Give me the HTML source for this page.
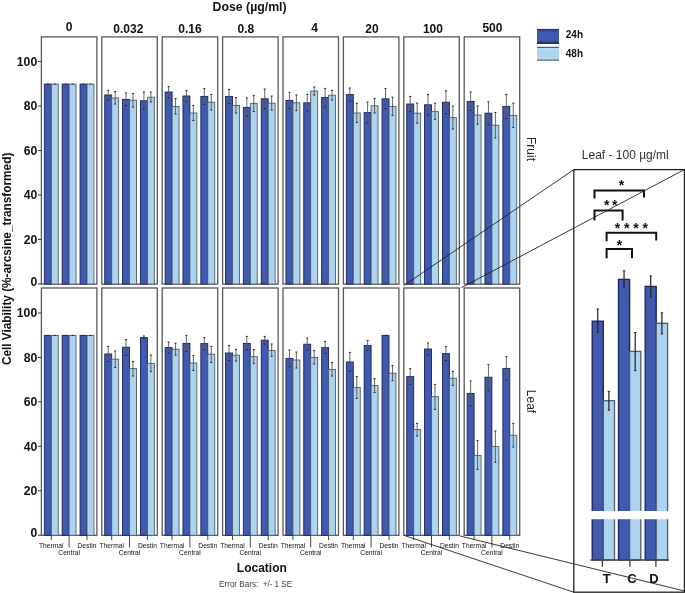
<!DOCTYPE html>
<html><head><meta charset="utf-8"><title>Chart</title>
<style>html,body{margin:0;padding:0;background:#fff;}svg{display:block;filter:blur(0.35px);}text{font-family:"Liberation Sans",sans-serif;}</style>
</head><body>
<svg width="685" height="593" viewBox="0 0 685 593">
<rect width="685" height="593" fill="#fff"/>
<rect x="41.40" y="36.9" width="55.5" height="247.20" fill="#fff" stroke="#585858" stroke-width="1.3"/>
<rect x="44.35" y="84.10" width="6.95" height="200.00" fill="#3f5aae" stroke="#18225a" stroke-width="0.9"/>
<rect x="51.30" y="84.10" width="6.95" height="200.00" fill="#add3ef" stroke="#4f5d6c" stroke-width="0.9"/>
<rect x="62.15" y="84.10" width="6.95" height="200.00" fill="#3f5aae" stroke="#18225a" stroke-width="0.9"/>
<rect x="69.10" y="84.10" width="6.95" height="200.00" fill="#add3ef" stroke="#4f5d6c" stroke-width="0.9"/>
<rect x="80.05" y="84.10" width="6.95" height="200.00" fill="#3f5aae" stroke="#18225a" stroke-width="0.9"/>
<rect x="87.00" y="84.10" width="6.95" height="200.00" fill="#add3ef" stroke="#4f5d6c" stroke-width="0.9"/>
<path d="M46.83 84.10h2" stroke="#222" stroke-width="1"/>
<path d="M53.78 84.10h2" stroke="#222" stroke-width="1"/>
<path d="M64.62 84.10h2" stroke="#222" stroke-width="1"/>
<path d="M71.57 84.10h2" stroke="#222" stroke-width="1"/>
<path d="M82.52 84.10h2" stroke="#222" stroke-width="1"/>
<path d="M89.47 84.10h2" stroke="#222" stroke-width="1"/>
<rect x="101.80" y="36.9" width="55.5" height="247.20" fill="#fff" stroke="#585858" stroke-width="1.3"/>
<rect x="104.75" y="95.00" width="6.95" height="189.10" fill="#3f5aae" stroke="#18225a" stroke-width="0.9"/>
<rect x="111.70" y="98.00" width="6.95" height="186.10" fill="#add3ef" stroke="#4f5d6c" stroke-width="0.9"/>
<rect x="122.55" y="99.40" width="6.95" height="184.70" fill="#3f5aae" stroke="#18225a" stroke-width="0.9"/>
<rect x="129.50" y="100.20" width="6.95" height="183.90" fill="#add3ef" stroke="#4f5d6c" stroke-width="0.9"/>
<rect x="140.45" y="100.80" width="6.95" height="183.30" fill="#3f5aae" stroke="#18225a" stroke-width="0.9"/>
<rect x="147.40" y="97.20" width="6.95" height="186.90" fill="#add3ef" stroke="#4f5d6c" stroke-width="0.9"/>
<path d="M108.22 90.40V100.00" stroke="#555" stroke-width="0.9" fill="none"/>
<path d="M107.22 90.40h2.00M107.22 100.00h2.00" stroke="#222" stroke-width="1" fill="none"/>
<path d="M115.17 91.60V104.00" stroke="#555" stroke-width="0.9" fill="none"/>
<path d="M114.17 91.60h2.00M114.17 104.00h2.00" stroke="#222" stroke-width="1" fill="none"/>
<path d="M126.02 93.00V105.60" stroke="#555" stroke-width="0.9" fill="none"/>
<path d="M125.02 93.00h2.00M125.02 105.60h2.00" stroke="#222" stroke-width="1" fill="none"/>
<path d="M132.97 93.60V107.00" stroke="#555" stroke-width="0.9" fill="none"/>
<path d="M131.97 93.60h2.00M131.97 107.00h2.00" stroke="#222" stroke-width="1" fill="none"/>
<path d="M143.92 92.00V109.00" stroke="#555" stroke-width="0.9" fill="none"/>
<path d="M142.92 92.00h2.00M142.92 109.00h2.00" stroke="#222" stroke-width="1" fill="none"/>
<path d="M150.87 92.00V102.00" stroke="#555" stroke-width="0.9" fill="none"/>
<path d="M149.87 92.00h2.00M149.87 102.00h2.00" stroke="#222" stroke-width="1" fill="none"/>
<rect x="162.20" y="36.9" width="55.5" height="247.20" fill="#fff" stroke="#585858" stroke-width="1.3"/>
<rect x="165.15" y="92.00" width="6.95" height="192.10" fill="#3f5aae" stroke="#18225a" stroke-width="0.9"/>
<rect x="172.10" y="106.40" width="6.95" height="177.70" fill="#add3ef" stroke="#4f5d6c" stroke-width="0.9"/>
<rect x="182.95" y="96.00" width="6.95" height="188.10" fill="#3f5aae" stroke="#18225a" stroke-width="0.9"/>
<rect x="189.90" y="113.00" width="6.95" height="171.10" fill="#add3ef" stroke="#4f5d6c" stroke-width="0.9"/>
<rect x="200.85" y="96.40" width="6.95" height="187.70" fill="#3f5aae" stroke="#18225a" stroke-width="0.9"/>
<rect x="207.80" y="102.20" width="6.95" height="181.90" fill="#add3ef" stroke="#4f5d6c" stroke-width="0.9"/>
<path d="M168.62 86.60V98.00" stroke="#555" stroke-width="0.9" fill="none"/>
<path d="M167.62 86.60h2.00M167.62 98.00h2.00" stroke="#222" stroke-width="1" fill="none"/>
<path d="M175.57 98.60V114.00" stroke="#555" stroke-width="0.9" fill="none"/>
<path d="M174.57 98.60h2.00M174.57 114.00h2.00" stroke="#222" stroke-width="1" fill="none"/>
<path d="M186.42 90.60V101.60" stroke="#555" stroke-width="0.9" fill="none"/>
<path d="M185.42 90.60h2.00M185.42 101.60h2.00" stroke="#222" stroke-width="1" fill="none"/>
<path d="M193.37 105.60V120.60" stroke="#555" stroke-width="0.9" fill="none"/>
<path d="M192.37 105.60h2.00M192.37 120.60h2.00" stroke="#222" stroke-width="1" fill="none"/>
<path d="M204.32 88.60V104.40" stroke="#555" stroke-width="0.9" fill="none"/>
<path d="M203.32 88.60h2.00M203.32 104.40h2.00" stroke="#222" stroke-width="1" fill="none"/>
<path d="M211.27 94.40V110.00" stroke="#555" stroke-width="0.9" fill="none"/>
<path d="M210.27 94.40h2.00M210.27 110.00h2.00" stroke="#222" stroke-width="1" fill="none"/>
<rect x="222.60" y="36.9" width="55.5" height="247.20" fill="#fff" stroke="#585858" stroke-width="1.3"/>
<rect x="225.55" y="96.40" width="6.95" height="187.70" fill="#3f5aae" stroke="#18225a" stroke-width="0.9"/>
<rect x="232.50" y="105.40" width="6.95" height="178.70" fill="#add3ef" stroke="#4f5d6c" stroke-width="0.9"/>
<rect x="243.35" y="107.40" width="6.95" height="176.70" fill="#3f5aae" stroke="#18225a" stroke-width="0.9"/>
<rect x="250.30" y="103.60" width="6.95" height="180.50" fill="#add3ef" stroke="#4f5d6c" stroke-width="0.9"/>
<rect x="261.25" y="98.80" width="6.95" height="185.30" fill="#3f5aae" stroke="#18225a" stroke-width="0.9"/>
<rect x="268.20" y="103.20" width="6.95" height="180.90" fill="#add3ef" stroke="#4f5d6c" stroke-width="0.9"/>
<path d="M229.02 89.40V103.60" stroke="#555" stroke-width="0.9" fill="none"/>
<path d="M228.02 89.40h2.00M228.02 103.60h2.00" stroke="#222" stroke-width="1" fill="none"/>
<path d="M235.97 97.60V113.00" stroke="#555" stroke-width="0.9" fill="none"/>
<path d="M234.97 97.60h2.00M234.97 113.00h2.00" stroke="#222" stroke-width="1" fill="none"/>
<path d="M246.82 98.00V116.40" stroke="#555" stroke-width="0.9" fill="none"/>
<path d="M245.82 98.00h2.00M245.82 116.40h2.00" stroke="#222" stroke-width="1" fill="none"/>
<path d="M253.77 95.60V111.60" stroke="#555" stroke-width="0.9" fill="none"/>
<path d="M252.77 95.60h2.00M252.77 111.60h2.00" stroke="#222" stroke-width="1" fill="none"/>
<path d="M264.73 89.00V108.60" stroke="#555" stroke-width="0.9" fill="none"/>
<path d="M263.73 89.00h2.00M263.73 108.60h2.00" stroke="#222" stroke-width="1" fill="none"/>
<path d="M271.68 96.00V110.00" stroke="#555" stroke-width="0.9" fill="none"/>
<path d="M270.68 96.00h2.00M270.68 110.00h2.00" stroke="#222" stroke-width="1" fill="none"/>
<rect x="283.00" y="36.9" width="55.5" height="247.20" fill="#fff" stroke="#585858" stroke-width="1.3"/>
<rect x="285.95" y="100.40" width="6.95" height="183.70" fill="#3f5aae" stroke="#18225a" stroke-width="0.9"/>
<rect x="292.90" y="102.80" width="6.95" height="181.30" fill="#add3ef" stroke="#4f5d6c" stroke-width="0.9"/>
<rect x="303.75" y="102.80" width="6.95" height="181.30" fill="#3f5aae" stroke="#18225a" stroke-width="0.9"/>
<rect x="310.70" y="91.00" width="6.95" height="193.10" fill="#add3ef" stroke="#4f5d6c" stroke-width="0.9"/>
<rect x="321.65" y="97.60" width="6.95" height="186.50" fill="#3f5aae" stroke="#18225a" stroke-width="0.9"/>
<rect x="328.60" y="95.20" width="6.95" height="188.90" fill="#add3ef" stroke="#4f5d6c" stroke-width="0.9"/>
<path d="M289.43 92.40V108.40" stroke="#555" stroke-width="0.9" fill="none"/>
<path d="M288.43 92.40h2.00M288.43 108.40h2.00" stroke="#222" stroke-width="1" fill="none"/>
<path d="M296.38 95.00V110.60" stroke="#555" stroke-width="0.9" fill="none"/>
<path d="M295.38 95.00h2.00M295.38 110.60h2.00" stroke="#222" stroke-width="1" fill="none"/>
<path d="M307.23 94.40V111.00" stroke="#555" stroke-width="0.9" fill="none"/>
<path d="M306.23 94.40h2.00M306.23 111.00h2.00" stroke="#222" stroke-width="1" fill="none"/>
<path d="M314.18 87.00V95.00" stroke="#555" stroke-width="0.9" fill="none"/>
<path d="M313.18 87.00h2.00M313.18 95.00h2.00" stroke="#222" stroke-width="1" fill="none"/>
<path d="M325.12 88.40V107.00" stroke="#555" stroke-width="0.9" fill="none"/>
<path d="M324.12 88.40h2.00M324.12 107.00h2.00" stroke="#222" stroke-width="1" fill="none"/>
<path d="M332.07 90.40V100.00" stroke="#555" stroke-width="0.9" fill="none"/>
<path d="M331.07 90.40h2.00M331.07 100.00h2.00" stroke="#222" stroke-width="1" fill="none"/>
<rect x="343.40" y="36.9" width="55.5" height="247.20" fill="#fff" stroke="#585858" stroke-width="1.3"/>
<rect x="346.35" y="94.60" width="6.95" height="189.50" fill="#3f5aae" stroke="#18225a" stroke-width="0.9"/>
<rect x="353.30" y="113.00" width="6.95" height="171.10" fill="#add3ef" stroke="#4f5d6c" stroke-width="0.9"/>
<rect x="364.15" y="112.60" width="6.95" height="171.50" fill="#3f5aae" stroke="#18225a" stroke-width="0.9"/>
<rect x="371.10" y="105.80" width="6.95" height="178.30" fill="#add3ef" stroke="#4f5d6c" stroke-width="0.9"/>
<rect x="382.05" y="98.80" width="6.95" height="185.30" fill="#3f5aae" stroke="#18225a" stroke-width="0.9"/>
<rect x="389.00" y="106.40" width="6.95" height="177.70" fill="#add3ef" stroke="#4f5d6c" stroke-width="0.9"/>
<path d="M349.82 88.00V101.40" stroke="#555" stroke-width="0.9" fill="none"/>
<path d="M348.82 88.00h2.00M348.82 101.40h2.00" stroke="#222" stroke-width="1" fill="none"/>
<path d="M356.77 103.40V122.40" stroke="#555" stroke-width="0.9" fill="none"/>
<path d="M355.77 103.40h2.00M355.77 122.40h2.00" stroke="#222" stroke-width="1" fill="none"/>
<path d="M367.62 102.00V123.00" stroke="#555" stroke-width="0.9" fill="none"/>
<path d="M366.62 102.00h2.00M366.62 123.00h2.00" stroke="#222" stroke-width="1" fill="none"/>
<path d="M374.57 98.40V113.00" stroke="#555" stroke-width="0.9" fill="none"/>
<path d="M373.57 98.40h2.00M373.57 113.00h2.00" stroke="#222" stroke-width="1" fill="none"/>
<path d="M385.52 88.60V108.60" stroke="#555" stroke-width="0.9" fill="none"/>
<path d="M384.52 88.60h2.00M384.52 108.60h2.00" stroke="#222" stroke-width="1" fill="none"/>
<path d="M392.47 97.20V115.40" stroke="#555" stroke-width="0.9" fill="none"/>
<path d="M391.47 97.20h2.00M391.47 115.40h2.00" stroke="#222" stroke-width="1" fill="none"/>
<rect x="403.80" y="36.9" width="55.5" height="247.20" fill="#fff" stroke="#585858" stroke-width="1.3"/>
<rect x="406.75" y="104.00" width="6.95" height="180.10" fill="#3f5aae" stroke="#18225a" stroke-width="0.9"/>
<rect x="413.70" y="113.20" width="6.95" height="170.90" fill="#add3ef" stroke="#4f5d6c" stroke-width="0.9"/>
<rect x="424.55" y="104.80" width="6.95" height="179.30" fill="#3f5aae" stroke="#18225a" stroke-width="0.9"/>
<rect x="431.50" y="111.60" width="6.95" height="172.50" fill="#add3ef" stroke="#4f5d6c" stroke-width="0.9"/>
<rect x="442.45" y="102.20" width="6.95" height="181.90" fill="#3f5aae" stroke="#18225a" stroke-width="0.9"/>
<rect x="449.40" y="117.60" width="6.95" height="166.50" fill="#add3ef" stroke="#4f5d6c" stroke-width="0.9"/>
<path d="M410.22 96.40V111.60" stroke="#555" stroke-width="0.9" fill="none"/>
<path d="M409.22 96.40h2.00M409.22 111.60h2.00" stroke="#222" stroke-width="1" fill="none"/>
<path d="M417.17 103.20V123.20" stroke="#555" stroke-width="0.9" fill="none"/>
<path d="M416.17 103.20h2.00M416.17 123.20h2.00" stroke="#222" stroke-width="1" fill="none"/>
<path d="M428.02 94.60V115.00" stroke="#555" stroke-width="0.9" fill="none"/>
<path d="M427.02 94.60h2.00M427.02 115.00h2.00" stroke="#222" stroke-width="1" fill="none"/>
<path d="M434.97 103.20V119.40" stroke="#555" stroke-width="0.9" fill="none"/>
<path d="M433.97 103.20h2.00M433.97 119.40h2.00" stroke="#222" stroke-width="1" fill="none"/>
<path d="M445.92 90.80V113.60" stroke="#555" stroke-width="0.9" fill="none"/>
<path d="M444.92 90.80h2.00M444.92 113.60h2.00" stroke="#222" stroke-width="1" fill="none"/>
<path d="M452.87 106.20V129.00" stroke="#555" stroke-width="0.9" fill="none"/>
<path d="M451.87 106.20h2.00M451.87 129.00h2.00" stroke="#222" stroke-width="1" fill="none"/>
<rect x="464.20" y="36.9" width="55.5" height="247.20" fill="#fff" stroke="#585858" stroke-width="1.3"/>
<rect x="467.15" y="101.40" width="6.95" height="182.70" fill="#3f5aae" stroke="#18225a" stroke-width="0.9"/>
<rect x="474.10" y="115.00" width="6.95" height="169.10" fill="#add3ef" stroke="#4f5d6c" stroke-width="0.9"/>
<rect x="484.95" y="113.20" width="6.95" height="170.90" fill="#3f5aae" stroke="#18225a" stroke-width="0.9"/>
<rect x="491.90" y="125.20" width="6.95" height="158.90" fill="#add3ef" stroke="#4f5d6c" stroke-width="0.9"/>
<rect x="502.85" y="106.40" width="6.95" height="177.70" fill="#3f5aae" stroke="#18225a" stroke-width="0.9"/>
<rect x="509.80" y="115.40" width="6.95" height="168.70" fill="#add3ef" stroke="#4f5d6c" stroke-width="0.9"/>
<path d="M470.62 92.00V110.40" stroke="#555" stroke-width="0.9" fill="none"/>
<path d="M469.62 92.00h2.00M469.62 110.40h2.00" stroke="#222" stroke-width="1" fill="none"/>
<path d="M477.57 105.80V124.20" stroke="#555" stroke-width="0.9" fill="none"/>
<path d="M476.57 105.80h2.00M476.57 124.20h2.00" stroke="#222" stroke-width="1" fill="none"/>
<path d="M488.43 101.80V124.60" stroke="#555" stroke-width="0.9" fill="none"/>
<path d="M487.43 101.80h2.00M487.43 124.60h2.00" stroke="#222" stroke-width="1" fill="none"/>
<path d="M495.38 112.40V138.00" stroke="#555" stroke-width="0.9" fill="none"/>
<path d="M494.38 112.40h2.00M494.38 138.00h2.00" stroke="#222" stroke-width="1" fill="none"/>
<path d="M506.32 94.40V118.60" stroke="#555" stroke-width="0.9" fill="none"/>
<path d="M505.32 94.40h2.00M505.32 118.60h2.00" stroke="#222" stroke-width="1" fill="none"/>
<path d="M513.27 103.20V127.40" stroke="#555" stroke-width="0.9" fill="none"/>
<path d="M512.27 103.20h2.00M512.27 127.40h2.00" stroke="#222" stroke-width="1" fill="none"/>
<rect x="41.40" y="288.0" width="55.5" height="247.30" fill="#fff" stroke="#585858" stroke-width="1.3"/>
<rect x="44.35" y="335.40" width="6.95" height="199.90" fill="#3f5aae" stroke="#18225a" stroke-width="0.9"/>
<rect x="51.30" y="335.40" width="6.95" height="199.90" fill="#add3ef" stroke="#4f5d6c" stroke-width="0.9"/>
<rect x="62.15" y="335.40" width="6.95" height="199.90" fill="#3f5aae" stroke="#18225a" stroke-width="0.9"/>
<rect x="69.10" y="335.40" width="6.95" height="199.90" fill="#add3ef" stroke="#4f5d6c" stroke-width="0.9"/>
<rect x="80.05" y="335.40" width="6.95" height="199.90" fill="#3f5aae" stroke="#18225a" stroke-width="0.9"/>
<rect x="87.00" y="335.40" width="6.95" height="199.90" fill="#add3ef" stroke="#4f5d6c" stroke-width="0.9"/>
<path d="M46.83 335.40h2" stroke="#222" stroke-width="1"/>
<path d="M53.78 335.40h2" stroke="#222" stroke-width="1"/>
<path d="M64.62 335.40h2" stroke="#222" stroke-width="1"/>
<path d="M71.57 335.40h2" stroke="#222" stroke-width="1"/>
<path d="M82.52 335.40h2" stroke="#222" stroke-width="1"/>
<path d="M89.47 335.40h2" stroke="#222" stroke-width="1"/>
<rect x="101.80" y="288.0" width="55.5" height="247.30" fill="#fff" stroke="#585858" stroke-width="1.3"/>
<rect x="104.75" y="354.00" width="6.95" height="181.30" fill="#3f5aae" stroke="#18225a" stroke-width="0.9"/>
<rect x="111.70" y="359.20" width="6.95" height="176.10" fill="#add3ef" stroke="#4f5d6c" stroke-width="0.9"/>
<rect x="122.55" y="347.20" width="6.95" height="188.10" fill="#3f5aae" stroke="#18225a" stroke-width="0.9"/>
<rect x="129.50" y="368.60" width="6.95" height="166.70" fill="#add3ef" stroke="#4f5d6c" stroke-width="0.9"/>
<rect x="140.45" y="337.60" width="6.95" height="197.70" fill="#3f5aae" stroke="#18225a" stroke-width="0.9"/>
<rect x="147.40" y="363.40" width="6.95" height="171.90" fill="#add3ef" stroke="#4f5d6c" stroke-width="0.9"/>
<path d="M108.22 346.40V361.60" stroke="#555" stroke-width="0.9" fill="none"/>
<path d="M107.22 346.40h2.00M107.22 361.60h2.00" stroke="#222" stroke-width="1" fill="none"/>
<path d="M115.17 351.00V367.40" stroke="#555" stroke-width="0.9" fill="none"/>
<path d="M114.17 351.00h2.00M114.17 367.40h2.00" stroke="#222" stroke-width="1" fill="none"/>
<path d="M126.02 339.60V355.40" stroke="#555" stroke-width="0.9" fill="none"/>
<path d="M125.02 339.60h2.00M125.02 355.40h2.00" stroke="#222" stroke-width="1" fill="none"/>
<path d="M132.97 361.60V376.00" stroke="#555" stroke-width="0.9" fill="none"/>
<path d="M131.97 361.60h2.00M131.97 376.00h2.00" stroke="#222" stroke-width="1" fill="none"/>
<path d="M143.92 336.00V338.60" stroke="#555" stroke-width="0.9" fill="none"/>
<path d="M142.92 336.00h2.00M142.92 338.60h2.00" stroke="#222" stroke-width="1" fill="none"/>
<path d="M150.87 355.00V371.60" stroke="#555" stroke-width="0.9" fill="none"/>
<path d="M149.87 355.00h2.00M149.87 371.60h2.00" stroke="#222" stroke-width="1" fill="none"/>
<rect x="162.20" y="288.0" width="55.5" height="247.30" fill="#fff" stroke="#585858" stroke-width="1.3"/>
<rect x="165.15" y="347.60" width="6.95" height="187.70" fill="#3f5aae" stroke="#18225a" stroke-width="0.9"/>
<rect x="172.10" y="349.20" width="6.95" height="186.10" fill="#add3ef" stroke="#4f5d6c" stroke-width="0.9"/>
<rect x="182.95" y="343.40" width="6.95" height="191.90" fill="#3f5aae" stroke="#18225a" stroke-width="0.9"/>
<rect x="189.90" y="363.00" width="6.95" height="172.30" fill="#add3ef" stroke="#4f5d6c" stroke-width="0.9"/>
<rect x="200.85" y="343.60" width="6.95" height="191.70" fill="#3f5aae" stroke="#18225a" stroke-width="0.9"/>
<rect x="207.80" y="354.20" width="6.95" height="181.10" fill="#add3ef" stroke="#4f5d6c" stroke-width="0.9"/>
<path d="M168.62 342.00V353.00" stroke="#555" stroke-width="0.9" fill="none"/>
<path d="M167.62 342.00h2.00M167.62 353.00h2.00" stroke="#222" stroke-width="1" fill="none"/>
<path d="M175.57 343.20V355.00" stroke="#555" stroke-width="0.9" fill="none"/>
<path d="M174.57 343.20h2.00M174.57 355.00h2.00" stroke="#222" stroke-width="1" fill="none"/>
<path d="M186.42 335.40V351.40" stroke="#555" stroke-width="0.9" fill="none"/>
<path d="M185.42 335.40h2.00M185.42 351.40h2.00" stroke="#222" stroke-width="1" fill="none"/>
<path d="M193.37 355.60V370.40" stroke="#555" stroke-width="0.9" fill="none"/>
<path d="M192.37 355.60h2.00M192.37 370.40h2.00" stroke="#222" stroke-width="1" fill="none"/>
<path d="M204.32 337.60V349.60" stroke="#555" stroke-width="0.9" fill="none"/>
<path d="M203.32 337.60h2.00M203.32 349.60h2.00" stroke="#222" stroke-width="1" fill="none"/>
<path d="M211.27 346.40V362.40" stroke="#555" stroke-width="0.9" fill="none"/>
<path d="M210.27 346.40h2.00M210.27 362.40h2.00" stroke="#222" stroke-width="1" fill="none"/>
<rect x="222.60" y="288.0" width="55.5" height="247.30" fill="#fff" stroke="#585858" stroke-width="1.3"/>
<rect x="225.55" y="353.00" width="6.95" height="182.30" fill="#3f5aae" stroke="#18225a" stroke-width="0.9"/>
<rect x="232.50" y="355.20" width="6.95" height="180.10" fill="#add3ef" stroke="#4f5d6c" stroke-width="0.9"/>
<rect x="243.35" y="343.40" width="6.95" height="191.90" fill="#3f5aae" stroke="#18225a" stroke-width="0.9"/>
<rect x="250.30" y="356.60" width="6.95" height="178.70" fill="#add3ef" stroke="#4f5d6c" stroke-width="0.9"/>
<rect x="261.25" y="340.20" width="6.95" height="195.10" fill="#3f5aae" stroke="#18225a" stroke-width="0.9"/>
<rect x="268.20" y="350.40" width="6.95" height="184.90" fill="#add3ef" stroke="#4f5d6c" stroke-width="0.9"/>
<path d="M229.02 345.60V360.40" stroke="#555" stroke-width="0.9" fill="none"/>
<path d="M228.02 345.60h2.00M228.02 360.40h2.00" stroke="#222" stroke-width="1" fill="none"/>
<path d="M235.97 349.40V361.00" stroke="#555" stroke-width="0.9" fill="none"/>
<path d="M234.97 349.40h2.00M234.97 361.00h2.00" stroke="#222" stroke-width="1" fill="none"/>
<path d="M246.82 336.40V349.60" stroke="#555" stroke-width="0.9" fill="none"/>
<path d="M245.82 336.40h2.00M245.82 349.60h2.00" stroke="#222" stroke-width="1" fill="none"/>
<path d="M253.77 349.60V363.60" stroke="#555" stroke-width="0.9" fill="none"/>
<path d="M252.77 349.60h2.00M252.77 363.60h2.00" stroke="#222" stroke-width="1" fill="none"/>
<path d="M264.73 336.40V344.00" stroke="#555" stroke-width="0.9" fill="none"/>
<path d="M263.73 336.40h2.00M263.73 344.00h2.00" stroke="#222" stroke-width="1" fill="none"/>
<path d="M271.68 344.00V356.40" stroke="#555" stroke-width="0.9" fill="none"/>
<path d="M270.68 344.00h2.00M270.68 356.40h2.00" stroke="#222" stroke-width="1" fill="none"/>
<rect x="283.00" y="288.0" width="55.5" height="247.30" fill="#fff" stroke="#585858" stroke-width="1.3"/>
<rect x="285.95" y="358.40" width="6.95" height="176.90" fill="#3f5aae" stroke="#18225a" stroke-width="0.9"/>
<rect x="292.90" y="360.00" width="6.95" height="175.30" fill="#add3ef" stroke="#4f5d6c" stroke-width="0.9"/>
<rect x="303.75" y="344.20" width="6.95" height="191.10" fill="#3f5aae" stroke="#18225a" stroke-width="0.9"/>
<rect x="310.70" y="357.40" width="6.95" height="177.90" fill="#add3ef" stroke="#4f5d6c" stroke-width="0.9"/>
<rect x="321.65" y="347.60" width="6.95" height="187.70" fill="#3f5aae" stroke="#18225a" stroke-width="0.9"/>
<rect x="328.60" y="369.40" width="6.95" height="165.90" fill="#add3ef" stroke="#4f5d6c" stroke-width="0.9"/>
<path d="M289.43 350.00V366.80" stroke="#555" stroke-width="0.9" fill="none"/>
<path d="M288.43 350.00h2.00M288.43 366.80h2.00" stroke="#222" stroke-width="1" fill="none"/>
<path d="M296.38 352.00V368.00" stroke="#555" stroke-width="0.9" fill="none"/>
<path d="M295.38 352.00h2.00M295.38 368.00h2.00" stroke="#222" stroke-width="1" fill="none"/>
<path d="M307.23 338.00V350.00" stroke="#555" stroke-width="0.9" fill="none"/>
<path d="M306.23 338.00h2.00M306.23 350.00h2.00" stroke="#222" stroke-width="1" fill="none"/>
<path d="M314.18 350.60V364.00" stroke="#555" stroke-width="0.9" fill="none"/>
<path d="M313.18 350.60h2.00M313.18 364.00h2.00" stroke="#222" stroke-width="1" fill="none"/>
<path d="M325.12 341.60V353.40" stroke="#555" stroke-width="0.9" fill="none"/>
<path d="M324.12 341.60h2.00M324.12 353.40h2.00" stroke="#222" stroke-width="1" fill="none"/>
<path d="M332.07 362.60V376.00" stroke="#555" stroke-width="0.9" fill="none"/>
<path d="M331.07 362.60h2.00M331.07 376.00h2.00" stroke="#222" stroke-width="1" fill="none"/>
<rect x="343.40" y="288.0" width="55.5" height="247.30" fill="#fff" stroke="#585858" stroke-width="1.3"/>
<rect x="346.35" y="362.00" width="6.95" height="173.30" fill="#3f5aae" stroke="#18225a" stroke-width="0.9"/>
<rect x="353.30" y="387.40" width="6.95" height="147.90" fill="#add3ef" stroke="#4f5d6c" stroke-width="0.9"/>
<rect x="364.15" y="345.60" width="6.95" height="189.70" fill="#3f5aae" stroke="#18225a" stroke-width="0.9"/>
<rect x="371.10" y="385.60" width="6.95" height="149.70" fill="#add3ef" stroke="#4f5d6c" stroke-width="0.9"/>
<rect x="382.05" y="335.40" width="6.95" height="199.90" fill="#3f5aae" stroke="#18225a" stroke-width="0.9"/>
<rect x="389.00" y="373.20" width="6.95" height="162.10" fill="#add3ef" stroke="#4f5d6c" stroke-width="0.9"/>
<path d="M349.82 352.40V371.40" stroke="#555" stroke-width="0.9" fill="none"/>
<path d="M348.82 352.40h2.00M348.82 371.40h2.00" stroke="#222" stroke-width="1" fill="none"/>
<path d="M356.77 376.60V398.40" stroke="#555" stroke-width="0.9" fill="none"/>
<path d="M355.77 376.60h2.00M355.77 398.40h2.00" stroke="#222" stroke-width="1" fill="none"/>
<path d="M367.62 340.40V350.40" stroke="#555" stroke-width="0.9" fill="none"/>
<path d="M366.62 340.40h2.00M366.62 350.40h2.00" stroke="#222" stroke-width="1" fill="none"/>
<path d="M374.57 378.60V392.60" stroke="#555" stroke-width="0.9" fill="none"/>
<path d="M373.57 378.60h2.00M373.57 392.60h2.00" stroke="#222" stroke-width="1" fill="none"/>
<path d="M384.52 335.40h2" stroke="#222" stroke-width="1"/>
<path d="M392.47 365.60V380.60" stroke="#555" stroke-width="0.9" fill="none"/>
<path d="M391.47 365.60h2.00M391.47 380.60h2.00" stroke="#222" stroke-width="1" fill="none"/>
<rect x="403.80" y="288.0" width="55.5" height="247.30" fill="#fff" stroke="#585858" stroke-width="1.3"/>
<rect x="406.75" y="376.60" width="6.95" height="158.70" fill="#3f5aae" stroke="#18225a" stroke-width="0.9"/>
<rect x="413.70" y="429.60" width="6.95" height="105.70" fill="#add3ef" stroke="#4f5d6c" stroke-width="0.9"/>
<rect x="424.55" y="349.00" width="6.95" height="186.30" fill="#3f5aae" stroke="#18225a" stroke-width="0.9"/>
<rect x="431.50" y="396.60" width="6.95" height="138.70" fill="#add3ef" stroke="#4f5d6c" stroke-width="0.9"/>
<rect x="442.45" y="353.60" width="6.95" height="181.70" fill="#3f5aae" stroke="#18225a" stroke-width="0.9"/>
<rect x="449.40" y="378.20" width="6.95" height="157.10" fill="#add3ef" stroke="#4f5d6c" stroke-width="0.9"/>
<path d="M410.22 368.60V384.40" stroke="#555" stroke-width="0.9" fill="none"/>
<path d="M409.22 368.60h2.00M409.22 384.40h2.00" stroke="#222" stroke-width="1" fill="none"/>
<path d="M417.17 423.40V436.00" stroke="#555" stroke-width="0.9" fill="none"/>
<path d="M416.17 423.40h2.00M416.17 436.00h2.00" stroke="#222" stroke-width="1" fill="none"/>
<path d="M428.02 343.00V355.00" stroke="#555" stroke-width="0.9" fill="none"/>
<path d="M427.02 343.00h2.00M427.02 355.00h2.00" stroke="#222" stroke-width="1" fill="none"/>
<path d="M434.97 384.40V409.40" stroke="#555" stroke-width="0.9" fill="none"/>
<path d="M433.97 384.40h2.00M433.97 409.40h2.00" stroke="#222" stroke-width="1" fill="none"/>
<path d="M445.92 346.60V360.60" stroke="#555" stroke-width="0.9" fill="none"/>
<path d="M444.92 346.60h2.00M444.92 360.60h2.00" stroke="#222" stroke-width="1" fill="none"/>
<path d="M452.87 371.40V385.40" stroke="#555" stroke-width="0.9" fill="none"/>
<path d="M451.87 371.40h2.00M451.87 385.40h2.00" stroke="#222" stroke-width="1" fill="none"/>
<rect x="464.20" y="288.0" width="55.5" height="247.30" fill="#fff" stroke="#585858" stroke-width="1.3"/>
<rect x="467.15" y="393.40" width="6.95" height="141.90" fill="#3f5aae" stroke="#18225a" stroke-width="0.9"/>
<rect x="474.10" y="455.40" width="6.95" height="79.90" fill="#add3ef" stroke="#4f5d6c" stroke-width="0.9"/>
<rect x="484.95" y="377.20" width="6.95" height="158.10" fill="#3f5aae" stroke="#18225a" stroke-width="0.9"/>
<rect x="491.90" y="446.40" width="6.95" height="88.90" fill="#add3ef" stroke="#4f5d6c" stroke-width="0.9"/>
<rect x="502.85" y="368.40" width="6.95" height="166.90" fill="#3f5aae" stroke="#18225a" stroke-width="0.9"/>
<rect x="509.80" y="435.20" width="6.95" height="100.10" fill="#add3ef" stroke="#4f5d6c" stroke-width="0.9"/>
<path d="M470.62 381.00V406.00" stroke="#555" stroke-width="0.9" fill="none"/>
<path d="M469.62 381.00h2.00M469.62 406.00h2.00" stroke="#222" stroke-width="1" fill="none"/>
<path d="M477.57 440.60V469.40" stroke="#555" stroke-width="0.9" fill="none"/>
<path d="M476.57 440.60h2.00M476.57 469.40h2.00" stroke="#222" stroke-width="1" fill="none"/>
<path d="M488.43 364.40V390.60" stroke="#555" stroke-width="0.9" fill="none"/>
<path d="M487.43 364.40h2.00M487.43 390.60h2.00" stroke="#222" stroke-width="1" fill="none"/>
<path d="M495.38 431.00V462.40" stroke="#555" stroke-width="0.9" fill="none"/>
<path d="M494.38 431.00h2.00M494.38 462.40h2.00" stroke="#222" stroke-width="1" fill="none"/>
<path d="M506.32 356.60V380.40" stroke="#555" stroke-width="0.9" fill="none"/>
<path d="M505.32 356.60h2.00M505.32 380.40h2.00" stroke="#222" stroke-width="1" fill="none"/>
<path d="M513.27 423.40V447.00" stroke="#555" stroke-width="0.9" fill="none"/>
<path d="M512.27 423.40h2.00M512.27 447.00h2.00" stroke="#222" stroke-width="1" fill="none"/>
<g font-weight="bold" fill="#111">
<text x="249.6" y="10.7" font-size="12.3" text-anchor="middle">Dose (µg/ml)</text>
<text x="69" y="30.8" font-size="12" text-anchor="middle">0</text>
<text x="128.3" y="32.6" font-size="12" text-anchor="middle">0.032</text>
<text x="190" y="32.6" font-size="12" text-anchor="middle">0.16</text>
<text x="245.8" y="32.6" font-size="12" text-anchor="middle">0.8</text>
<text x="314.6" y="32.2" font-size="12" text-anchor="middle">4</text>
<text x="372" y="32.6" font-size="12" text-anchor="middle">20</text>
<text x="432.9" y="33" font-size="12" text-anchor="middle">100</text>
<text x="492.4" y="31.8" font-size="12" text-anchor="middle">500</text>
<path d="M38 283.90H41.4" stroke="#333" stroke-width="1"/>
<text x="37.2" y="285.70" font-size="12.2" text-anchor="end">0</text>
<path d="M38 239.44H41.4" stroke="#333" stroke-width="1"/>
<text x="37.2" y="243.84" font-size="12.2" text-anchor="end">20</text>
<path d="M38 194.98H41.4" stroke="#333" stroke-width="1"/>
<text x="37.2" y="199.38" font-size="12.2" text-anchor="end">40</text>
<path d="M38 150.52H41.4" stroke="#333" stroke-width="1"/>
<text x="37.2" y="154.92" font-size="12.2" text-anchor="end">60</text>
<path d="M38 106.06H41.4" stroke="#333" stroke-width="1"/>
<text x="37.2" y="110.46" font-size="12.2" text-anchor="end">80</text>
<path d="M38 61.60H41.4" stroke="#333" stroke-width="1"/>
<text x="37.2" y="66.00" font-size="12.2" text-anchor="end">100</text>
<path d="M38 535.20H41.4" stroke="#333" stroke-width="1"/>
<text x="37.2" y="537.00" font-size="12.2" text-anchor="end">0</text>
<path d="M38 490.76H41.4" stroke="#333" stroke-width="1"/>
<text x="37.2" y="495.16" font-size="12.2" text-anchor="end">20</text>
<path d="M38 446.32H41.4" stroke="#333" stroke-width="1"/>
<text x="37.2" y="450.72" font-size="12.2" text-anchor="end">40</text>
<path d="M38 401.88H41.4" stroke="#333" stroke-width="1"/>
<text x="37.2" y="406.28" font-size="12.2" text-anchor="end">60</text>
<path d="M38 357.44H41.4" stroke="#333" stroke-width="1"/>
<text x="37.2" y="361.84" font-size="12.2" text-anchor="end">80</text>
<path d="M38 313.00H41.4" stroke="#333" stroke-width="1"/>
<text x="37.2" y="317.40" font-size="12.2" text-anchor="end">100</text>
<text transform="translate(11.4,258.9) rotate(-90) scale(0.882,1)" font-size="13.4" text-anchor="middle">Cell Viability (%-arcsine_transformed)</text>
<text x="261.8" y="571.6" font-size="12" text-anchor="middle">Location</text>
<text x="565.8" y="38" font-size="10">24h</text>
<text x="565.8" y="56.8" font-size="10">48h</text>
</g>
<text transform="translate(255.6,586.7) scale(0.93,1)" font-size="8.7" text-anchor="middle" fill="#3a3a3a" xml:space="preserve">Error Bars:  +/- 1 SE</text>
<rect x="537" y="29" width="22" height="14.7" fill="#3f5aae"/>
<rect x="537" y="30" width="22" height="2" fill="#3850a2"/><rect x="537" y="40.6" width="22" height="2" fill="#3850a2"/>
<rect x="537" y="28.9" width="22" height="1.2" fill="#2a3568"/><rect x="537" y="42.4" width="22" height="1.5" fill="#1f2a5e"/>
<rect x="537" y="46.9" width="22" height="13.8" fill="#add3ef"/>
<rect x="537" y="48" width="22" height="2.2" fill="#b9dbf4"/><rect x="537" y="57.4" width="22" height="2" fill="#b9dbf4"/>
<rect x="537" y="46.8" width="22" height="1.1" fill="#44546a"/><rect x="537" y="59.4" width="22" height="1.4" fill="#6a7c90"/>
<text transform="translate(527.4,149) rotate(90)" font-size="12" text-anchor="middle" fill="#222">Fruit</text>
<text transform="translate(527.4,401.5) rotate(90)" font-size="12" text-anchor="middle" fill="#222">Leaf</text>
<g font-size="6.7" fill="#111" text-anchor="middle">
<path d="M51.30 535.3V540M69.10 535.3V547.4M87.00 535.3V540" stroke="#333" stroke-width="0.9" fill="none"/>
<text x="51.30" y="547.7">Thermal</text>
<text x="69.10" y="555">Central</text>
<text x="87.00" y="547.7">Destin</text>
<path d="M111.70 535.3V540M129.50 535.3V547.4M147.40 535.3V540" stroke="#333" stroke-width="0.9" fill="none"/>
<text x="111.70" y="547.7">Thermal</text>
<text x="129.50" y="555">Central</text>
<text x="147.40" y="547.7">Destin</text>
<path d="M172.10 535.3V540M189.90 535.3V547.4M207.80 535.3V540" stroke="#333" stroke-width="0.9" fill="none"/>
<text x="172.10" y="547.7">Thermal</text>
<text x="189.90" y="555">Central</text>
<text x="207.80" y="547.7">Destin</text>
<path d="M232.50 535.3V540M250.30 535.3V547.4M268.20 535.3V540" stroke="#333" stroke-width="0.9" fill="none"/>
<text x="232.50" y="547.7">Thermal</text>
<text x="250.30" y="555">Central</text>
<text x="268.20" y="547.7">Destin</text>
<path d="M292.90 535.3V540M310.70 535.3V547.4M328.60 535.3V540" stroke="#333" stroke-width="0.9" fill="none"/>
<text x="292.90" y="547.7">Thermal</text>
<text x="310.70" y="555">Central</text>
<text x="328.60" y="547.7">Destin</text>
<path d="M353.30 535.3V540M371.10 535.3V547.4M389.00 535.3V540" stroke="#333" stroke-width="0.9" fill="none"/>
<text x="353.30" y="547.7">Thermal</text>
<text x="371.10" y="555">Central</text>
<text x="389.00" y="547.7">Destin</text>
<path d="M413.70 535.3V540M431.50 535.3V547.4M449.40 535.3V540" stroke="#333" stroke-width="0.9" fill="none"/>
<text x="413.70" y="547.7">Thermal</text>
<text x="431.50" y="555">Central</text>
<text x="449.40" y="547.7">Destin</text>
<path d="M474.10 535.3V540M491.90 535.3V547.4M509.80 535.3V540" stroke="#333" stroke-width="0.9" fill="none"/>
<text x="474.10" y="547.7">Thermal</text>
<text x="491.90" y="555">Central</text>
<text x="509.80" y="547.7">Destin</text>
</g>
<text x="625.3" y="159.4" font-size="12" text-anchor="middle" fill="#333" transform="translate(0,-7.97) scale(1,1.05)">Leaf - 100 µg/ml</text>
<rect x="573.8" y="169.6" width="110.6" height="422.6" fill="#fff" stroke="#222" stroke-width="1.3"/>
<rect x="592.20" y="321.20" width="11.10" height="238.80" fill="#3f5aae" stroke="#18225a" stroke-width="1.3"/>
<rect x="603.30" y="400.70" width="11.20" height="159.30" fill="#add3ef" stroke="#4f5d6c" stroke-width="1.3"/>
<rect x="618.50" y="279.40" width="11.10" height="280.60" fill="#3f5aae" stroke="#18225a" stroke-width="1.3"/>
<rect x="629.60" y="351.40" width="11.20" height="208.60" fill="#add3ef" stroke="#4f5d6c" stroke-width="1.3"/>
<rect x="645.20" y="286.40" width="11.00" height="273.60" fill="#3f5aae" stroke="#18225a" stroke-width="1.3"/>
<rect x="656.20" y="323.30" width="11.40" height="236.70" fill="#add3ef" stroke="#4f5d6c" stroke-width="1.3"/>
<path d="M597.75 309.00V332.10" stroke="#222" stroke-width="1.2" fill="none"/>
<path d="M596.55 309.00h2.40M596.55 332.10h2.40" stroke="#222" stroke-width="1" fill="none"/>
<path d="M608.90 391.40V410.20" stroke="#222" stroke-width="1.2" fill="none"/>
<path d="M607.70 391.40h2.40M607.70 410.20h2.40" stroke="#222" stroke-width="1" fill="none"/>
<path d="M624.05 270.80V287.80" stroke="#222" stroke-width="1.2" fill="none"/>
<path d="M622.85 270.80h2.40M622.85 287.80h2.40" stroke="#222" stroke-width="1" fill="none"/>
<path d="M635.20 332.60V370.70" stroke="#222" stroke-width="1.2" fill="none"/>
<path d="M634.00 332.60h2.40M634.00 370.70h2.40" stroke="#222" stroke-width="1" fill="none"/>
<path d="M650.70 275.90V297.10" stroke="#222" stroke-width="1.2" fill="none"/>
<path d="M649.50 275.90h2.40M649.50 297.10h2.40" stroke="#222" stroke-width="1" fill="none"/>
<path d="M661.90 312.80V333.90" stroke="#222" stroke-width="1.2" fill="none"/>
<path d="M660.70 312.80h2.40M660.70 333.90h2.40" stroke="#222" stroke-width="1" fill="none"/>
<rect x="590" y="511" width="80" height="8.2" fill="#fff"/>
<path d="M590.4 560H669" stroke="#444" stroke-width="1.6"/>
<path d="M602.4 560V566.7M629.9 560V566.7M655.9 560V566.7" stroke="#444" stroke-width="1.3"/>
<g font-size="13" font-weight="bold" text-anchor="middle" fill="#111"><text x="606.7" y="583.2">T</text><text x="632" y="583.2">C</text><text x="654" y="583.2">D</text></g>
<path d="M594.5 198.4V190.4H644V197.5" stroke="#111" stroke-width="2" fill="none"/>
<path d="M594.5 220.4V210.5H622.6V220.4" stroke="#111" stroke-width="2" fill="none"/>
<path d="M606.6 241.3V232.8H656.2V240.4" stroke="#111" stroke-width="2" fill="none"/>
<path d="M606.6 258.3V248.9H632V258.3" stroke="#111" stroke-width="2" fill="none"/>
<g font-size="14" font-weight="bold" text-anchor="middle" fill="#111">
<text x="621.5" y="189.9">*</text>
<text x="612" y="209.8" letter-spacing="2.6">**</text>
<text x="633.3" y="233.1" letter-spacing="3.8">****</text>
<text x="619.6" y="250">*</text>
</g>
<path d="M403.7 285.6L573.8 169.6M461.5 287.6L684.4 169.6M404 535.4L573.8 592.2M460 536L684.4 591" stroke="#222" stroke-width="0.9" fill="none"/>
</svg></body></html>
